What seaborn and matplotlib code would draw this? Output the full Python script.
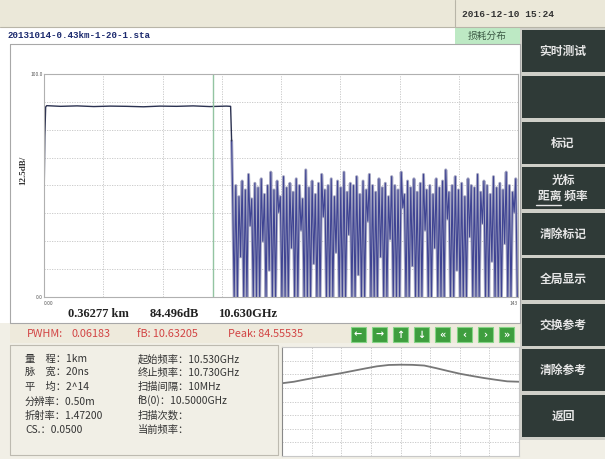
import numpy as np
import pandas as pd
import matplotlib
matplotlib.use("Agg")
import matplotlib.pyplot as plt
import seaborn as sns
from matplotlib.patches import Rectangle

# main trace: flat loss plateau, then the noisy tail (values in % of full scale)
plateau_x = [0.0, 0.25, 0.5, 0.8, 5, 10, 15, 20, 25, 30, 35, 40, 45, 50, 55, 56.3, 56.6]
plateau_y = [40, 72, 85.2, 85.8, 85.5, 85.7, 85.4, 85.6, 85.5, 85.3, 85.6, 85.5, 85.7, 85.4,
             85.6, 85.5, 70]
peaks = [47, 50, 45, 52, 48, 55, 44, 51, 49, 53, 46, 50, 56, 48, 52, 45, 54, 49, 51, 47,
         53, 50, 44, 57, 49, 52, 46, 51, 55, 48, 50, 53, 45, 52, 49, 56, 47, 51, 50, 54,
         46, 52, 48, 55, 50, 47, 53, 49, 51, 45, 54, 50, 48, 56, 46, 52, 49, 53, 47, 51,
         55, 48, 50, 46, 53, 49, 52, 57, 47, 50, 54, 48, 51, 45, 53, 50, 49, 55, 47, 52,
         50, 46, 54, 49, 51, 48, 56, 50, 47, 53]
troughs = [0, 0, 18, 0, 0, 32, 0, 0, 0, 25, 0, 12, 0, 0, 38, 0, 0, 0, 22, 0,
           0, 30, 0, 0, 0, 15, 0, 0, 36, 0, 0, 0, 20, 0, 0, 0, 28, 0, 0, 10,
           0, 0, 34, 0, 0, 0, 18, 0, 0, 26, 0, 0, 0, 40, 0, 0, 14, 0, 0, 0,
           30, 0, 0, 22, 0, 0, 0, 35, 0, 0, 12, 0, 0, 0, 27, 0, 0, 0, 33, 0,
           0, 16, 0, 0, 0, 24, 0, 0, 38, 0]
marker_x = 51.0
x_tick_labels = ["0.00", "", "", "", "", "", "", "", "143"]
y_tick_labels = ["0.0", "", "", "", "", "", "", "", "100.0"]

# spectrum preview (bottom), in grid divisions
freqs = [10.53, 10.54, 10.55, 10.56, 10.57, 10.58, 10.59, 10.60, 10.61, 10.62, 10.63,
         10.64, 10.65, 10.66, 10.67, 10.68, 10.69, 10.70, 10.71, 10.72, 10.73]
gain = [5.34, 5.45, 5.62, 5.78, 5.93, 6.08, 6.25, 6.42, 6.58, 6.68, 6.70,
        6.69, 6.64, 6.45, 6.24, 6.04, 5.88, 5.73, 5.60, 5.48, 5.45]

readout = ["0.36277 km", "84.496dB", "10.630GHz"]
status = ["PWHM:", "0.06183", "fB: 10.63205", "Peak: 84.55535"]
info_left = ["量　程：1km", "脉　宽：20ns", "平　均：2^14", "分辨率：0.50m",
             "折射率：1.47200", "CS.：0.0500"]
info_right = ["起始频率：10.530GHz", "终止频率：10.730GHz", "扫描间隔：10MHz",
              "fB(0)：10.5000GHz", "扫描次数：", "当前频率："]
buttons = ["实时测试", "", "标记", "光标\n距离 频率", "清除标记", "全局显示",
           "交换参考", "清除参考", "返回"]
arrows = ["←", "→", "↑", "↓", "«", "‹", "›", "»"]

sns.set_theme(style="white")
plt.rcParams['font.family'] = ['Noto Sans CJK SC', 'DejaVu Sans']

W, H = 605, 459
fig = plt.figure(figsize=(6.05, 4.59), dpi=100)
fig.patch.set_facecolor('#f1efe6')
bg = fig.add_axes([0, 0, 1, 1])
bg.set_xlim(0, W)
bg.set_ylim(H, 0)
bg.axis('off')


def box(x0, y0, x1, y1, fc, ec='none', lw=0.8):
    bg.add_patch(Rectangle((x0, y0), x1 - x0, y1 - y0, facecolor=fc, edgecolor=ec, lw=lw))


def px_rect(x0, y0, x1, y1):
    return [x0 / W, 1 - y1 / H, (x1 - x0) / W, (y1 - y0) / H]


# frame of the screen
box(0, 0, W, 27, '#ebe8d9')
bg.plot([455, 455], [0, 27], color='#b8b5a8', lw=0.8)
bg.plot([0, W], [27, 27], color='#b8b5a8', lw=0.8)
bg.text(462, 17, "2016-12-10 15:24", family='Liberation Mono', weight='bold',
        fontsize=6.8, color='#333333')
box(0, 27, 520, 323, 'white')
bg.text(8, 38, "20131014-0.43km-1-20-1.sta", family='Liberation Mono', weight='bold',
        fontsize=6.6, color='#1c2a6e')
box(455, 27, 520, 44, '#bde9c4')
bg.text(487, 36, "损耗分布", ha='center', va='center', fontsize=7, color='#3d5a45')
bg.plot([10, 520, 520, 10, 10], [44, 44, 323, 323, 44], color='#a8a8a8', lw=0.8)

# status line
box(10, 323, 520, 343, '#eeeadc')
for txt, x in zip(status, [27, 72, 137, 228]):
    bg.text(x, 334, txt, va='center', fontsize=7.8, color='#d24444')
for i, a in enumerate(arrows):
    cx = 358 + i * 21.2
    box(cx - 7.5, 327, cx + 7.5, 342, '#3e9e3e', '#86d486', 0.8)
    bg.text(cx, 334.5, a, ha='center', va='center', family='DejaVu Sans', weight='bold',
            fontsize=7, color='white')

# readout under the trace
for txt, x in zip(readout, [68, 150, 218]):
    bg.text(x, 314, txt, va='center', family='Liberation Serif', weight='bold',
            fontsize=9, color='#222222')
bg.text(23, 170, "12.5dB/", rotation=90, ha='center', va='center',
        family='Liberation Serif', weight='bold', fontsize=6.5, color='#333333')

# info panel
bg.plot([10, 278, 278, 10, 10], [345, 345, 455, 455, 345], color='#bdbab0', lw=0.8)
for i, (l, r) in enumerate(zip(info_left, info_right)):
    y = 359 + i * 14.2
    bg.text(25, y, l, va='center', fontsize=7.4, color='#333333')
    bg.text(138, y, r, va='center', fontsize=7.4, color='#333333')

# right button column
box(520, 27, W, 440, '#cfcfc8')
tops = [30, 76, 122, 167, 213, 258, 304, 349, 395]
for t, lab in zip(tops, buttons):
    box(522, t, W, t + 42, '#2f3a37')
    if "\n" in lab:
        l1, l2 = lab.split("\n")
        bg.text(563, t + 13, l1, ha='center', va='center', fontsize=8.5, weight='bold',
                color='#e6e6e6')
        bg.text(563, t + 29, l2, ha='center', va='center', fontsize=8.5, weight='bold',
                color='#e6e6e6')
        bg.plot([536, 561], [t + 38, t + 38], color='#e6e6e6', lw=1)
    elif lab:
        bg.text(563, t + 21, lab, ha='center', va='center', fontsize=8.5, weight='bold',
                color='#e6e6e6')

# main trace
ax = fig.add_axes(px_rect(44, 74, 518, 297))
noise_x = np.linspace(56.9, 142.8, 2 * len(peaks))
noise_y = [v for pair in zip(peaks, troughs) for v in pair]
df_p = pd.DataFrame({"x": plateau_x, "y": plateau_y})
df_n = pd.DataFrame({"x": np.r_[plateau_x[-1], noise_x], "y": [plateau_y[-1]] + noise_y})
sns.lineplot(data=df_n, x="x", y="y", ax=ax, color='#a9aac4', lw=2.2, estimator=None)
sns.lineplot(data=df_n, x="x", y="y", ax=ax, color='#3f4493', lw=0.8, estimator=None)
sns.lineplot(data=df_p, x="x", y="y", ax=ax, color='#2b3150', lw=1.0, estimator=None)
ax.axvline(marker_x, color='#93c4a2', lw=1.0)
ax.set_xlim(0, 143)
ax.set_ylim(0, 100)
ax.set_xticks(np.linspace(0, 143, 9))
ax.set_yticks(np.linspace(0, 100, 9))
ax.set_xticklabels(x_tick_labels)
ax.set_yticklabels(y_tick_labels)
ax.tick_params(labelsize=3.5, labelcolor='#555555', length=0, pad=1)
ax.tick_params(axis='x', pad=3)
xl = ax.get_xticklabels()
xl[0].set_ha('left')
xl[-1].set_ha('right')
ax.set_xlabel("")
ax.set_ylabel("")
ax.grid(True, linestyle=(0, (1.5, 1.5)), color='#c4c4c4', lw=0.6)
for s in ax.spines.values():
    s.set_color('#b0b0b0')
    s.set_linewidth(0.8)
ax.set_facecolor('white')

# spectrum preview
ax2 = fig.add_axes(px_rect(282, 347, 519, 456))
df_g = pd.DataFrame({"f": freqs, "g": gain})
sns.lineplot(data=df_g, x="f", y="g", ax=ax2, color='#777777', lw=1.3)
ax2.set_xlim(freqs[0], freqs[-1])
ax2.set_ylim(0, 8)
ax2.set_xticks(np.linspace(freqs[0], freqs[-1], 9))
ax2.set_yticks(np.arange(0, 9))
ax2.set_xticklabels([])
ax2.set_yticklabels([])
ax2.tick_params(length=0)
ax2.set_xlabel("")
ax2.set_ylabel("")
ax2.grid(True, linestyle=(0, (1.5, 1.5)), color='#c4c4c4', lw=0.6)
for s in ax2.spines.values():
    s.set_color('#c8c8c8')
    s.set_linewidth(0.8)
ax2.spines['left'].set_color('#888888')

fig.savefig("out.png", dpi=100)
